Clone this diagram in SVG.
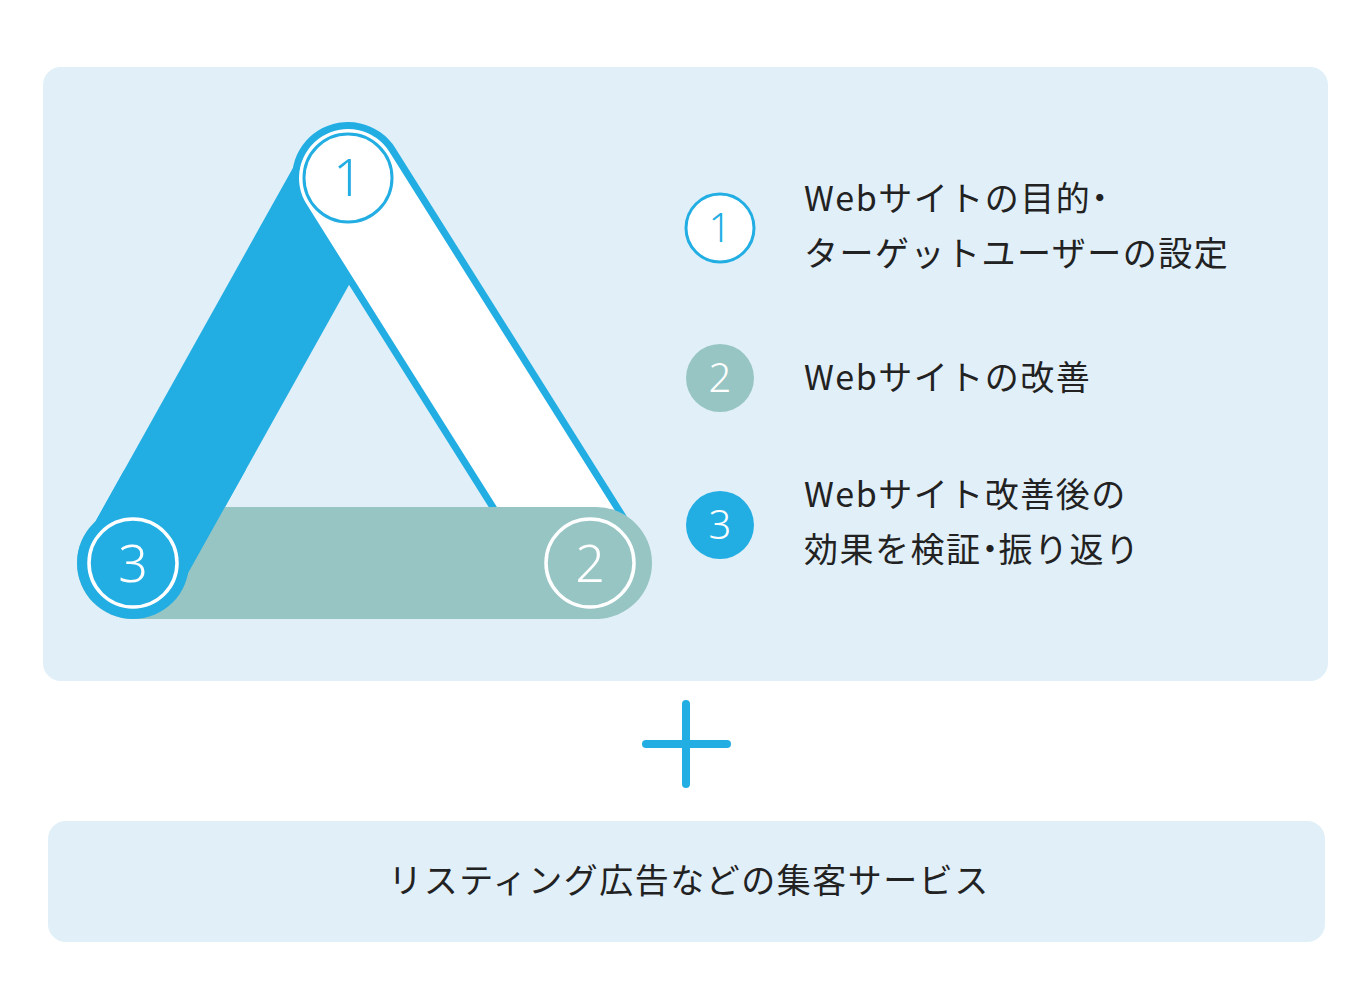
<svg xmlns="http://www.w3.org/2000/svg" width="1368" height="1001" viewBox="0 0 1368 1001">
<style>
.t{font-family:"Noto Sans CJK JP","Noto Sans",sans-serif;font-size:34px;fill:#222;letter-spacing:1.5px}
.d{font-feature-settings:"palt";letter-spacing:0}
.n{font-family:"Noto Sans","Open Sans",sans-serif;font-weight:300;text-anchor:middle}
</style>
<defs><clipPath id="low"><rect x="0" y="470" width="700" height="200"/></clipPath></defs>
<rect width="1368" height="1001" fill="#fff"/>
<rect x="43" y="67" width="1285" height="614" rx="18" fill="#e0eff8"/>
<g id="connectors">
<line x1="133" y1="563" x2="348" y2="178" stroke="#23aee3" stroke-width="106" stroke-linecap="round"/>
<line x1="348" y1="178" x2="590" y2="563" stroke="#23aee3" stroke-width="112" stroke-linecap="round"/>
<line x1="348" y1="178" x2="590" y2="563" stroke="#fff" stroke-width="98" stroke-linecap="round"/>
<line x1="133" y1="563" x2="596" y2="563" stroke="#96c5c4" stroke-width="112" stroke-linecap="round"/>
<line x1="133" y1="563" x2="348" y2="178" stroke="#23aee3" stroke-width="106" stroke-linecap="round" clip-path="url(#low)"/>
<circle cx="133" cy="563" r="56" fill="#23aee3"/>
</g>
<g id="node1"><circle cx="348" cy="178" r="44" fill="#fff" stroke="#23aee3" stroke-width="3"/><text class="n" x="348" y="196" font-size="52" fill="#23aee3">1</text></g>
<g id="node2"><circle cx="590" cy="563" r="44" fill="none" stroke="#fff" stroke-width="3.5"/><text class="n" x="590" y="582" font-size="52" fill="#fff">2</text></g>
<g id="node3"><circle cx="133" cy="563" r="44" fill="none" stroke="#fff" stroke-width="3.5"/><text class="n" x="133" y="582" font-size="52" fill="#fff">3</text></g>
<g id="legend1"><circle cx="720" cy="228" r="34" fill="#fff" stroke="#23aee3" stroke-width="3"/><text class="n" x="720" y="242" font-size="40" fill="#23aee3">1</text>
<text class="t" x="804" y="211">Webサイトの目的<tspan class="d">・</tspan></text><text class="t" x="804" y="266">ターゲットユーザーの設定</text></g>
<g id="legend2"><circle cx="720" cy="378" r="34" fill="#96c5c4"/><text class="n" x="720" y="392" font-size="40" fill="#fff">2</text>
<text class="t" x="804" y="390">Webサイトの改善</text></g>
<g id="legend3"><circle cx="720" cy="525" r="34" fill="#23aee3"/><text class="n" x="720" y="539" font-size="40" fill="#fff">3</text>
<text class="t" x="804" y="507">Webサイト改善後の</text><text class="t" x="804" y="562">効果を検証<tspan class="d">・</tspan>振り返り</text></g>
<g id="plus" stroke="#23aee3" stroke-width="8" stroke-linecap="round"><line x1="646" y1="744" x2="727" y2="744"/><line x1="686" y1="704" x2="686" y2="784"/></g>
<g id="bottom"><rect x="48" y="821" width="1277" height="121" rx="18" fill="#e0eff8"/><text class="t" x="689" y="893" text-anchor="middle">リスティング広告などの集客サービス</text></g>
</svg>
